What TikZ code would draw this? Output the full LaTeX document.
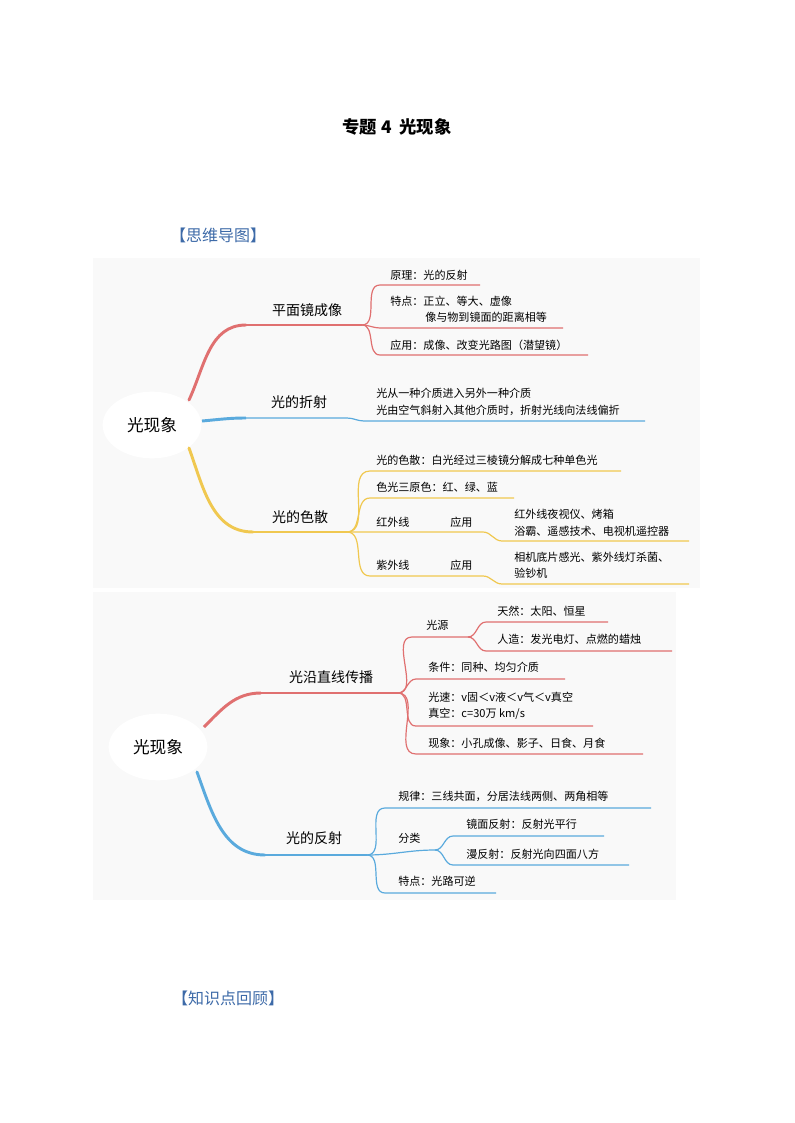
\documentclass[tikz,border=0pt]{standalone}
\usepackage{fontspec}
\setmainfont{Noto Sans CJK SC}
\usetikzlibrary{shapes.geometric}
\definecolor{mred}{HTML}{E07070}
\definecolor{mblue}{HTML}{5AAADD}
\definecolor{myel}{HTML}{F0C850}
\definecolor{head}{HTML}{3D6AA8}
\tikzset{
 lab/.style={anchor=west,font=\fontsize{8.3pt}{10pt}\selectfont,inner sep=0pt,align=left},
 blab/.style={anchor=center,font=\fontsize{10.5pt}{12pt}\selectfont,inner sep=0pt},
 ctr/.style={ellipse,fill=white,minimum width=74pt,minimum height=50pt,font=\fontsize{12.5pt}{14pt}\selectfont},
 sub/.style={line width=0.9pt},
 main/.style={line width=2.2pt},
}
\newcommand\fk[4]{\draw[sub,#1] (#2) to[out=0,in=180] (#3) -- (#4);}
\begin{document}
\begin{tikzpicture}[x=0.75pt,y=-0.75pt]
\useasboundingbox (0,0) rectangle (794,1123);
\fill[white] (0,0) rectangle (794,1123);
\node[font=\fontsize{13pt}{15pt}\selectfont\bfseries] (title) at (397,127) {专题 4\ \ 光现象};
\node[font=\fontsize{12pt}{14pt}\selectfont,text=head] (h1) at (218,235) {【思维导图】};
\node[font=\fontsize{12pt}{14pt}\selectfont,text=head] (h2) at (228,998) {【知识点回顾】};
\fill[gray!5] (93,258) rectangle (700,588);
\fill[gray!5] (93,592) rectangle (676,900);
% ===== upper map
\node[ctr] (c1) at (152,425) {光现象};
\coordinate (r0) at (189,400); \coordinate (r1) at (246,325); \coordinate (rf) at (362,325);
\draw[main,mred,line cap=round] (r0) to[out=65,in=180] (r1);
\draw[sub,mred,line width=1.2pt] (r1) -- (rf);
\node[blab] (l1) at (307,310) {平面镜成像};
\coordinate (a1) at (380,285); \coordinate (a1e) at (480,285);
\coordinate (a2) at (380,328); \coordinate (a2e) at (563,328);
\coordinate (a3) at (380,355); \coordinate (a3e) at (588,355);
\fk{mred}{rf}{a1}{a1e}\fk{mred}{rf}{a2}{a2e}\fk{mred}{rf}{a3}{a3e}
\node[lab] (t1) at (390,275) {原理：光的反射};
\node[lab] (t2) at (390,301) {特点：正立、等大、虚像};
\node[lab] (t3) at (425,317) {像与物到镜面的距离相等};
\node[lab] (t4) at (390,345) {应用：成像、改变光路图（潜望镜）};
\coordinate (b0) at (202,421); \coordinate (b1) at (246,418); \coordinate (b2) at (347,418);
\coordinate (b3) at (364,421); \coordinate (b4) at (645,421);
\draw[main,mblue] (b0) to[out=5,in=180] (b1);
\draw[sub,mblue] (b1) -- (b2) to[out=0,in=180] (b3) -- (b4);
\node[blab] (l2) at (299,402) {光的折射};
\node[lab] (t5) at (376,393) {光从一种介质进入另外一种介质};
\node[lab] (t6) at (376,410) {光由空气斜射入其他介质时，折射光线向法线偏折};
\coordinate (y0) at (189,448); \coordinate (y1) at (253,532); \coordinate (yf) at (347,532);
\draw[main,myel,line cap=round] (y0) to[out=-70,in=180] (y1);
\draw[sub,myel,line width=1.2pt] (y1) -- (yf);
\node[blab] (l3) at (300,517) {光的色散};
\coordinate (d1) at (370,471); \coordinate (d1e) at (621,471);
\coordinate (d2) at (370,498); \coordinate (d2e) at (514,498);
\fk{myel}{yf}{d1}{d1e}\fk{myel}{yf}{d2}{d2e}
\coordinate (d3) at (483,532); \coordinate (d3b) at (502,541); \coordinate (d3e) at (689,541);
\draw[sub,myel] (yf) -- (d3) to[out=0,in=180] (d3b) -- (d3e);
\coordinate (d4) at (370,576); \coordinate (d4a) at (483,576); \coordinate (d4b) at (502,584); \coordinate (d4e) at (689,584);
\draw[sub,myel] (yf) to[out=0,in=180] (d4) -- (d4a) to[out=0,in=180] (d4b) -- (d4e);
\node[lab] (t7) at (376,460) {光的色散：白光经过三棱镜分解成七种单色光};
\node[lab] (t8) at (376,487) {色光三原色：红、绿、蓝};
\node[lab] (t9) at (376,522) {红外线};
\node[lab] (t10) at (450,522) {应用};
\node[lab] (t11) at (514,514) {红外线夜视仪、烤箱};
\node[lab] (t12) at (514,531) {浴霸、遥感技术、电视机遥控器};
\node[lab] (t13) at (376,565) {紫外线};
\node[lab] (t14) at (450,565) {应用};
\node[lab] (t15) at (514,557) {相机底片感光、紫外线灯杀菌、};
\node[lab] (t16) at (514,573) {验钞机};
% ===== lower map
\node[ctr] (c2) at (158,747) {光现象};
\coordinate (p0) at (204,727); \coordinate (p1) at (261,693); \coordinate (pf) at (398,693);
\draw[main,mred] (p0) to[out=45,in=180] (p1);
\draw[sub,mred,line width=1.2pt] (p1) -- (pf);
\node[blab] (l4) at (331,677) {光沿直线传播};
\coordinate (s1) at (412,637); \coordinate (s1f) at (468,637);
\draw[sub,mred] (pf) to[out=0,in=180] (s1) -- (s1f);
\coordinate (s11) at (486,622); \coordinate (s11e) at (608,622);
\coordinate (s12) at (486,651); \coordinate (s12e) at (672,651);
\fk{mred}{s1f}{s11}{s11e}\fk{mred}{s1f}{s12}{s12e}
\coordinate (s2) at (416,679); \coordinate (s2e) at (565,679);
\coordinate (s3) at (416,726); \coordinate (s3e) at (593,726);
\coordinate (s4) at (416,754); \coordinate (s4e) at (643,754);
\fk{mred}{pf}{s2}{s2e}\fk{mred}{pf}{s3}{s3e}\fk{mred}{pf}{s4}{s4e}
\node[lab] (u1) at (426,625) {光源};
\node[lab] (u2) at (497,611) {天然：太阳、恒星};
\node[lab] (u3) at (497,639) {人造：发光电灯、点燃的蜡烛};
\node[lab] (u4) at (428,667) {条件：同种、均匀介质};
\node[lab] (u5) at (428,697) {光速：{\itshape v}固＜{\itshape v}液＜{\itshape v}气＜v真空};
\node[lab] (u6) at (428,714) {真空：c=30万 km/s};
\node[lab] (u7) at (428,743) {现象：小孔成像、影子、日食、月食};
\coordinate (q0) at (197,772); \coordinate (q1) at (265,855); \coordinate (qf) at (367,855);
\draw[main,mblue,line cap=round] (q0) to[out=-70,in=180] (q1);
\draw[sub,mblue,line width=1.2pt] (q1) -- (qf);
\node[blab] (l5) at (314,838) {光的反射};
\coordinate (v1) at (385,808); \coordinate (v1e) at (651,808);
\coordinate (v2) at (435,850);
\coordinate (v3) at (385,893); \coordinate (v3e) at (496,893);
\fk{mblue}{qf}{v1}{v1e}\fk{mblue}{qf}{v3}{v3e}
\draw[sub,mblue] (qf) to[out=0,in=180] (v2);
\coordinate (v21) at (453,836); \coordinate (v21e) at (604,836);
\coordinate (v22) at (453,865); \coordinate (v22e) at (629,865);
\fk{mblue}{v2}{v21}{v21e}\fk{mblue}{v2}{v22}{v22e}
\node[lab] (w1) at (398,796) {规律：三线共面，分居法线两侧、两角相等};
\node[lab] (w2) at (398,838) {分类};
\node[lab] (w3) at (466,824) {镜面反射：反射光平行};
\node[lab] (w4) at (466,854) {漫反射：反射光向四面八方};
\node[lab] (w5) at (398,881) {特点：光路可逆};
\end{tikzpicture}
\end{document}
